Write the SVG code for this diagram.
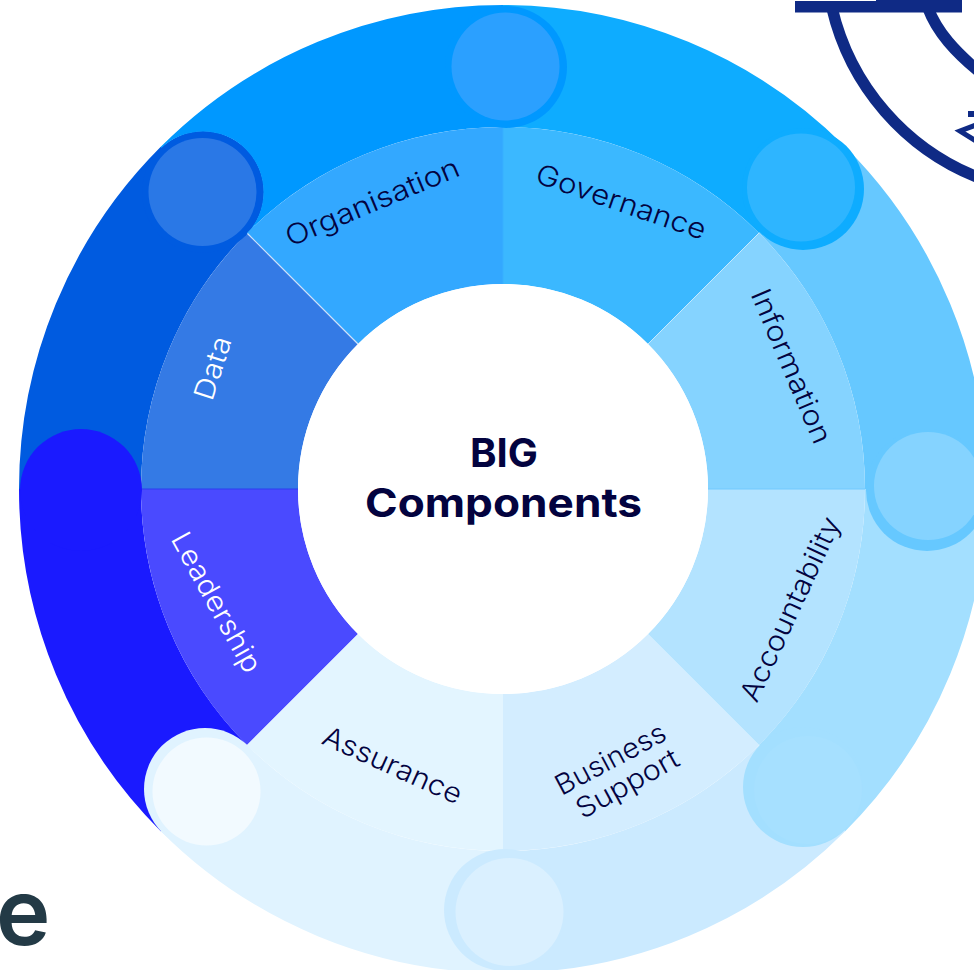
<svg xmlns="http://www.w3.org/2000/svg" width="974" height="970" viewBox="0 0 974 970">
<style>
.band{fill:none;stroke-width:122}
.lbl{font-family:"Inter","Liberation Sans",sans-serif;font-weight:300;font-size:28px;text-anchor:middle;fill:#03033f}
.lw{fill:#fff}
.ctr{font-family:"Inter","Liberation Sans",sans-serif;font-weight:700;font-size:40px;text-anchor:middle;fill:#03033f}
.navy{fill:none;stroke:#0f2a85;stroke-width:11.500}
</style>
<defs>
<clipPath id="notDataCap"><path clip-rule="evenodd" d="M0 0H974V970H0Z M142.500 192a60.500 60.500 0 1 0 121 0a60.500 60.500 0 1 0 -121 0Z"/></clipPath>
</defs>
<rect width="974" height="970" fill="#fff"/>
<g id="backdrop">
<path class="navy" d="M832 8C850 85 905 150 982 179"/>
<path class="navy" d="M928 8C937 32 955 52 982 74"/>
<rect x="795" y="1" width="167" height="11.500" fill="#0f2a85"/>
<rect x="876" y="0" width="86" height="2" fill="#0f2a85"/>
<path d="M976 125L960 131L976 141" fill="none" stroke="#0f2a85" stroke-width="5"/>
<path d="M968 111h6v6h-6Z" fill="#0f2a85"/>
<text x="-4" y="945" font-family="Inter,'Liberation Sans',sans-serif" font-weight="600" font-size="92" fill="#233a46">e</text>
</g>
<g id="data">
<path class="band" stroke="#005be0" d="M80 489A423 423 0 0 1 203.900 189.900"/>
<path d="M141 489A362 362 0 0 1 247 233L358 344A205 205 0 0 0 298 489Z" fill="#347ae5"/>
<circle cx="203" cy="192" r="61" fill="#005be0"/>
<circle cx="202.500" cy="192" r="54" fill="#2a78e6"/>
<text class="lbl lw" transform="translate(222 371) rotate(-72)" textLength="65" lengthAdjust="spacingAndGlyphs">Data</text>
</g>
<g id="leadership">
<path class="band" stroke="#1a1aff" d="M203.900 788.100A423 423 0 0 1 80 489"/>
<path d="M247 745A362 362 0 0 1 141 489H298A205 205 0 0 0 358 634Z" fill="#4a4aff"/>
<path d="M141 489H298" stroke="#2a3df0" stroke-width="1" fill="none"/>
<circle cx="81" cy="490" r="61" fill="#1a1aff"/>
<text class="lbl lw" transform="translate(208 607) rotate(61)" textLength="156" lengthAdjust="spacingAndGlyphs">Leadership</text>
</g>
<g id="assurance">
<path class="band" stroke="#e0f3ff" d="M503 912A423 423 0 0 1 203.900 788.100"/>
<path d="M503 851A362 362 0 0 1 247 745L358 634A205 205 0 0 0 503 694Z" fill="#e3f5ff"/>
<circle cx="205" cy="789" r="61" fill="#e0f3ff"/>
<circle cx="206.500" cy="791.500" r="54" fill="#f2faff"/>
<text class="lbl" transform="translate(388.500 774) rotate(24.300)" textLength="150" lengthAdjust="spacingAndGlyphs">Assurance</text>
</g>
<g id="business-support">
<path class="band" stroke="#cbeaff" d="M802.100 788.100A423 423 0 0 1 503 912"/>
<path d="M759 745A362 362 0 0 1 503 851V694A205 205 0 0 0 648 634Z" fill="#d3edff"/>
<circle cx="505" cy="910" r="61" fill="#cbeaff"/>
<circle cx="509.500" cy="912" r="54" fill="#daf0ff"/>
<text class="lbl" transform="translate(615 767.500) rotate(-28)" textLength="121" lengthAdjust="spacingAndGlyphs">Business</text>
<text class="lbl" transform="translate(632 792) rotate(-29)" textLength="113" lengthAdjust="spacingAndGlyphs">Support</text>
</g>
<g id="accountability">
<path class="band" stroke="#a3dfff" d="M926 489A423 423 0 0 1 802.100 788.100"/>
<path d="M865 489A362 362 0 0 1 759 745L648 634A205 205 0 0 0 708 489Z" fill="#b3e3ff"/>
<circle cx="803" cy="787" r="60" fill="#a3dfff"/>
<circle cx="808" cy="790" r="54" fill="#a6e0ff"/>
<text class="lbl" transform="translate(799 613) rotate(-65)" textLength="200" lengthAdjust="spacingAndGlyphs">Accountability</text>
</g>
<g id="information">
<path class="band" stroke="#66c8ff" d="M802.100 189.900A423 423 0 0 1 926 489"/>
<path d="M759 233A362 362 0 0 1 865 489H708A205 205 0 0 0 648 344Z" fill="#85d3ff"/>
<path d="M708 489H865" stroke="#70c9ff" stroke-width="1" fill="none"/>
<circle cx="927" cy="490" r="61" fill="#66c8ff"/>
<circle cx="928" cy="486" r="54" fill="#85d3ff"/>
<text class="lbl" transform="translate(782.500 370) rotate(67)" textLength="165" lengthAdjust="spacingAndGlyphs">Information</text>
</g>
<g id="governance">
<path class="band" stroke="#0eacff" d="M503 66A423 423 0 0 1 802.100 189.900"/>
<path d="M503 127A362 362 0 0 1 759 233L648 344A205 205 0 0 0 503 284Z" fill="#3bb8ff"/>
<path d="M648 344L759 233" stroke="#c5e9ff" stroke-width="1" fill="none"/>
<circle cx="803" cy="189" r="61" fill="#0eacff"/>
<circle cx="801" cy="187.500" r="54" fill="#2eb5ff"/>
<text class="lbl" transform="translate(618 211) rotate(19)" textLength="178" lengthAdjust="spacingAndGlyphs">Governance</text>
</g>
<g id="organisation">
<path class="band" stroke="#0098ff" clip-path="url(#notDataCap)" d="M203.900 189.900A423 423 0 0 1 503 66"/>
<path d="M247 233A362 362 0 0 1 503 127V284A205 205 0 0 0 358 344Z" fill="#33a8ff"/>
<path d="M247.500 233.500L358 344" stroke="#cfe2fa" stroke-width="1.200" fill="none"/>
<path d="M503 127V284" stroke="#38b0ff" stroke-width="1" fill="none"/>
<circle cx="506" cy="67" r="61" fill="#0098ff"/>
<circle cx="505.500" cy="66.500" r="54" fill="#2ba0ff"/>
<text class="lbl" transform="translate(376 211) rotate(-22.700)" textLength="186" lengthAdjust="spacingAndGlyphs">Organisation</text>
</g>
<g id="center">
<circle cx="503" cy="489" r="205" fill="#fff"/>
<text class="ctr" x="504" y="467" textLength="68" lengthAdjust="spacingAndGlyphs">BIG</text>
<text class="ctr" x="503.500" y="517" textLength="277" lengthAdjust="spacingAndGlyphs">Components</text>
</g>
</svg>
